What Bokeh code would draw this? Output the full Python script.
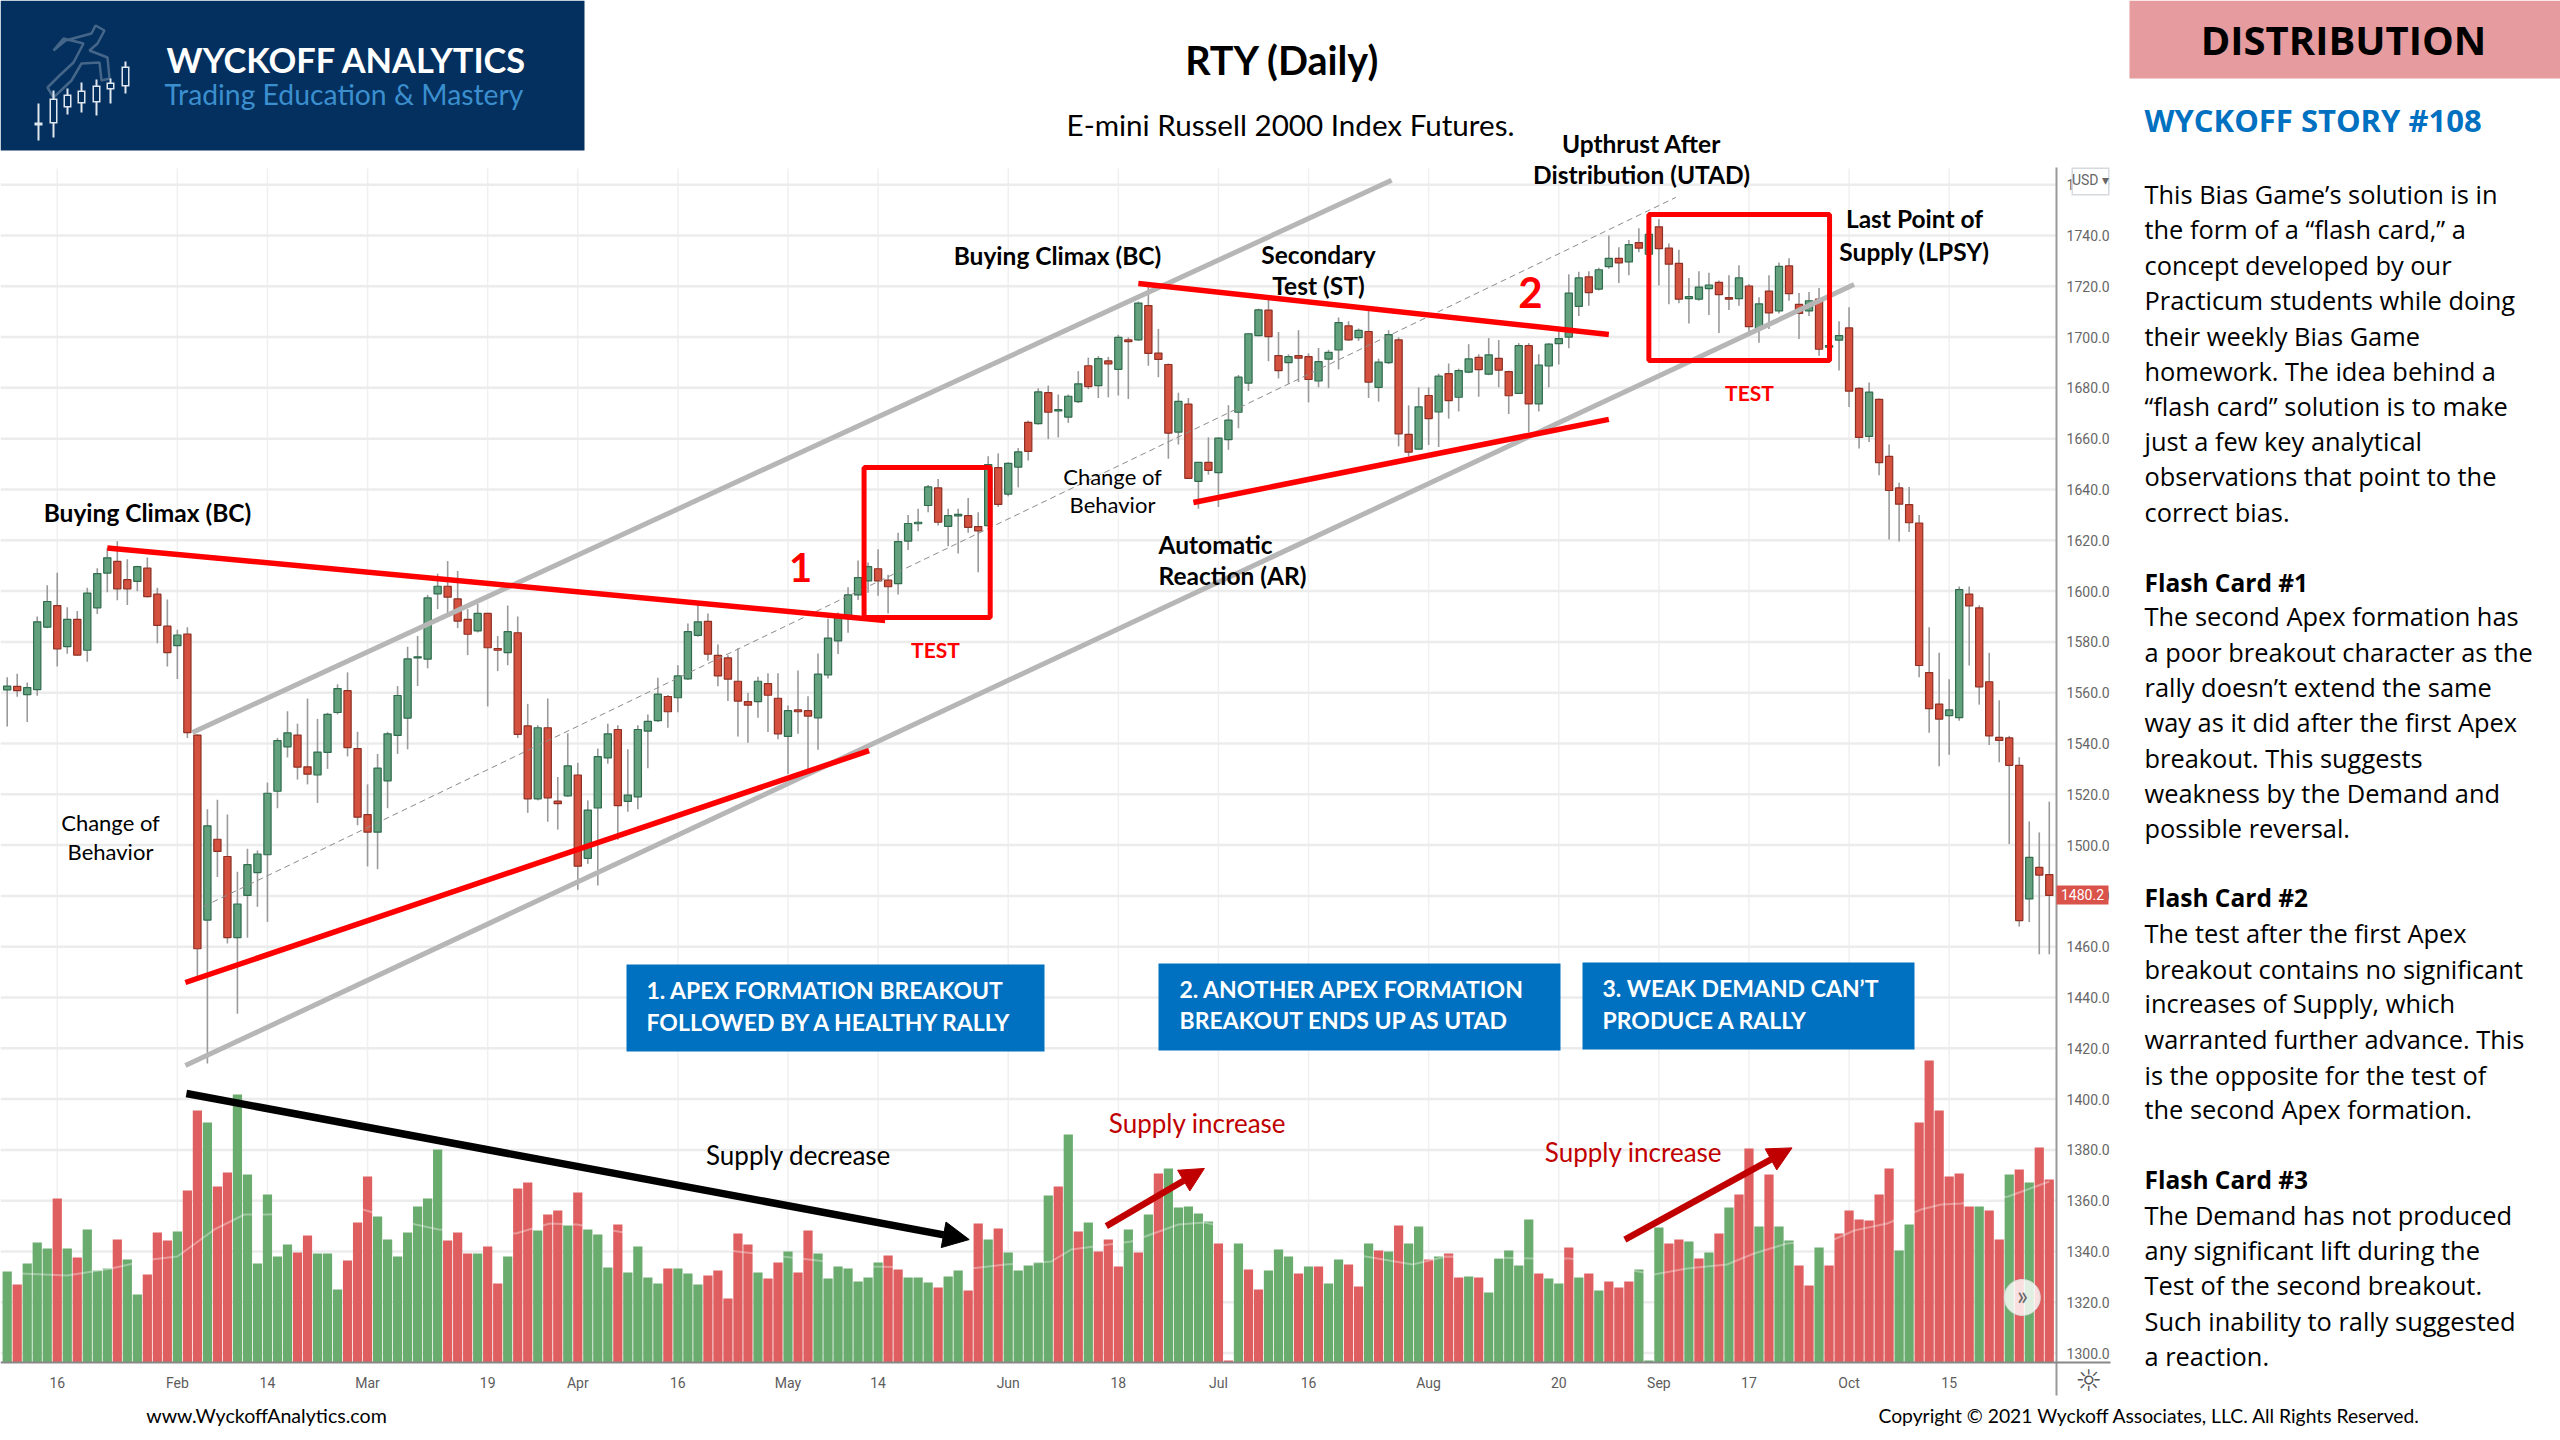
from bokeh.embed import file_html
from bokeh.models import (Arrow, BoxAnnotation, ColumnDataSource, FixedTicker, Label,
                          NormalHead, NumeralTickFormatter, PolyAnnotation, Range1d)
from bokeh.plotting import figure
from bokeh.resources import INLINE

# daily candles
opens = [1561.1,1562.5,1559.2,1561.2,1585.8,1594.3,1578.1,1588.9,1576.7,1593.4,
         1607.1,1611.7,1604.5,1603.8,1609,1598.8,1586.2,1578.5,1583.1,1543.3,
         1470.5,1502.3,1495.5,1463.6,1480.2,1489.2,1496.2,1521.2,1538.7,1543.3,
         1530.8,1527.6,1536.5,1552.2,1560.8,1538,1512,1505.1,1525.3,1543.2,
         1550,1573.7,1573.2,1598.9,1601.9,1596.9,1588.9,1584.3,1591.2,1577.4,
         1575.8,1583.6,1546.9,1518.2,1546.2,1517.3,1519.4,1527.6,1494.8,1514.6,
         1534.3,1545.5,1517.2,1519,1544.9,1549,1558.5,1558,1565.4,1582.6,
         1588.1,1574.7,1573.7,1564.5,1556.5,1556.5,1563.6,1557.8,1542.8,1553.2,
         1552.9,1550.1,1567,1580.4,1589.1,1598.5,1604,1608.8,1604.3,1602.9,
         1619.7,1626.5,1633.7,1640.6,1625.5,1629.6,1629.7,1625.4,1625.8,1648.6,
         1638.2,1648.8,1666.4,1665.9,1678.1,1670.9,1668.5,1674.6,1688.7,1680.9,
         1690.6,1687.3,1698.9,1698.9,1712.4,1693.7,1689.2,1662.6,1673.6,1643.2,
         1650.7,1646.6,1659.6,1670.4,1681.9,1700.6,1710.6,1692.7,1689.9,1692.7,
         1692.3,1682.7,1691.3,1694.9,1704.4,1699.8,1702.2,1680.2,1689.9,1698.9,
         1661.7,1655.9,1677,1670.5,1685.6,1676.3,1686.2,1692,1685.4,1691.6,
         1686.4,1677.8,1696.6,1673.7,1688.6,1697.4,1700,1712.1,1723.7,1718.9,
         1727.7,1731,1729.6,1737.2,1732.6,1743.4,1735,1729,1715.1,1714.9,
         1719.1,1721.5,1715.5,1715.1,1720.1,1703.2,1718.1,1710.3,1728,1712.9,
         1710.3,1714.9,1696,1698.8,1703.6,1679.8,1660.9,1675.5,1653,1640.6,
         1634,1626.8,1567.9,1555.5,1551,1550.2,1598.8,1593.4,1564.3,1542.4,
         1542.2,1531.4,1478.8,1491.2,1488.4]
highs = [1566.1,1567.5,1564,1590,1602.3,1607.2,1593.6,1592.2,1601.3,1609,
         1617,1619.6,1612.5,1610,1613.2,1601.3,1596.7,1584.8,1585.8,1543.6,
         1514.1,1517.9,1512,1489.5,1498.6,1497.9,1524.6,1542.2,1552.7,1547.8,
         1557.7,1549.7,1552.1,1563.3,1568,1544.6,1523.9,1535.9,1544.6,1562.6,
         1578.1,1582.3,1598.5,1606.9,1611.8,1607.9,1592.9,1595,1591.4,1582.3,
         1594.3,1590,1555.6,1547.2,1557.7,1526.8,1544,1532.4,1517.6,1538,
         1547.8,1547.2,1537.7,1547.2,1551.4,1565.9,1559.1,1570.8,1587.2,1594.5,
         1591.2,1579,1574.7,1577.5,1560,1566.3,1567.7,1567.7,1555,1568.7,
         1558.6,1575.4,1589.2,1591.6,1601.5,1612,1611.3,1616.5,1606.4,1623,
         1630,1632.4,1641.8,1644.1,1632.4,1632.4,1636.6,1631,1653.1,1654.2,
         1650.7,1656.3,1667.1,1679.8,1680.9,1677.4,1677.4,1686.6,1691.9,1692.5,
         1692.2,1700.9,1699.9,1714,1719.9,1703.2,1689.6,1678.1,1676,1650.7,
         1660.5,1660.5,1673.2,1685.1,1701.6,1711.2,1714.7,1702,1693.2,1702.7,
         1693.6,1695.7,1695,1707.7,1706.2,1703.4,1710.8,1691.5,1702.7,1699.9,
         1673.1,1680.2,1680.2,1685.6,1689.6,1687.6,1697.2,1693.2,1699.6,1698.8,
         1686.8,1697.6,1697.6,1693.2,1697.6,1702.2,1724.7,1725.7,1725.9,1727.3,
         1740,1735.4,1738.2,1742.8,1748.4,1746.4,1736.8,1734.4,1723.3,1725.9,
         1725.3,1722.3,1724.3,1728.3,1720.9,1715.7,1724.3,1729.4,1731,1717.3,
         1717.7,1719.3,1702.8,1706.2,1711.7,1680.2,1682.1,1675.8,1657.7,1642.6,
         1641,1630,1585.8,1575.7,1565.3,1601.8,1601.8,1594.4,1575.7,1557,
         1543,1534.6,1509.3,1505,1517.1]
lows = [1546.7,1558.4,1548.5,1558.8,1585.4,1570.3,1575.3,1574.6,1572.2,1591,
        1599.5,1596.4,1594.5,1599.9,1597.5,1579.5,1570.3,1565.4,1542.2,1448,
        1414,1487.4,1461.3,1433.6,1463.5,1475.7,1469.8,1514.5,1534.5,1525.8,
        1523.9,1516.6,1530,1551.4,1534.9,1507.8,1491.6,1490.5,1514.5,1535.9,
        1537.7,1562.6,1569.6,1592.9,1590.5,1585.4,1574.8,1583.7,1554.6,1568.5,
        1570.8,1542.2,1512.7,1517.6,1509.2,1506.1,1519,1482.4,1492.6,1484.1,
        1532,1502.1,1513.1,1514.1,1530.3,1548.5,1546.2,1552.3,1565,1582,
        1572.6,1562.5,1556.7,1542.8,1540.3,1550.1,1544.5,1541.7,1528,1543.8,
        1529,1537.5,1565.6,1575.2,1583.6,1596.5,1599.3,1598.2,1591.2,1598.7,
        1616.2,1623.6,1631,1625.8,1617.6,1614.8,1623,1607.4,1625.4,1633.1,
        1637.3,1640.8,1651.4,1665.5,1659.8,1660.5,1666.2,1674,1679.5,1676,
        1676.3,1677,1675.6,1698.5,1688.7,1684.2,1652.1,1657.7,1644.1,1632.4,
        1645.8,1633.1,1655.6,1664.1,1678.8,1700.3,1690.5,1683.7,1681.6,1682.3,
        1674.3,1680.2,1679.9,1687.3,1698.5,1698.5,1676,1674.6,1689.4,1657,
        1653,1655.7,1657.5,1656.7,1667.9,1670.7,1685.8,1676.5,1685,1680.2,
        1669.7,1677.6,1662.5,1670.7,1680.2,1689.2,1695.6,1708.3,1712.3,1718.3,
        1726.9,1721.3,1724.3,1733.4,1728.3,1720.3,1712.9,1713.3,1705.3,1714.3,
        1708.7,1701.6,1710.7,1712.3,1701.2,1697.8,1703.2,1709.3,1714.3,1699.2,
        1708.3,1692.6,1695.5,1686.8,1672.5,1656.1,1658.7,1645.6,1620.3,1619.5,
        1623.3,1566.1,1544.2,1531,1535.6,1549,1570.7,1555.3,1539.4,1532.6,
        1500.4,1467.9,1469.7,1457,1457]
closes = [1562.6,1560.8,1562,1587.9,1595.9,1577.2,1588.9,1574.8,1599.2,1606.9,
          1613.1,1600.9,1600.9,1609.6,1597.8,1586.5,1575.8,1582.7,1544.3,1459.2,
          1507.6,1497.5,1463.6,1476.8,1492.3,1496.5,1520.4,1541.1,1544.2,1530.7,
          1527.9,1536.6,1551.5,1561.6,1538.4,1511,1505.1,1530.3,1543.8,1558.9,
          1573.3,1574.1,1597.3,1601.9,1597.6,1588.2,1583,1591.2,1577.7,1576.7,
          1584,1543.6,1518.2,1546.2,1518.6,1516.3,1531.2,1491.7,1513.8,1534.8,
          1543.8,1515.5,1519.7,1545.5,1548.7,1559.4,1552.5,1566.6,1584,1587.9,
          1575.2,1566.6,1565.3,1556.7,1555.1,1564.5,1559,1543.8,1552.9,1552.5,
          1550.8,1567.3,1581.5,1589.5,1598.5,1605.3,1609.6,1604,1601.7,1619.5,
          1626.6,1627.1,1641,1627.1,1629.7,1630.2,1625.1,1623.7,1649.8,1634.1,
          1650.3,1654.8,1655,1678.4,1670.4,1671.4,1676.7,1681.6,1680.5,1691.5,
          1689.4,1699.9,1698.2,1713.4,1693.6,1691.2,1662.2,1674.7,1644.4,1650.7,
          1647.5,1660.2,1667.3,1684.2,1701.3,1710.7,1700.2,1686.8,1692.3,1691.7,
          1683.3,1690.3,1694,1705.7,1698.9,1702.6,1682.3,1690.1,1701,1661.9,
          1654.7,1672.5,1667.9,1684.6,1675,1686.8,1691.4,1687.2,1693,1687,
          1676.9,1696.6,1673.7,1689,1697.2,1699.4,1717.3,1723.3,1717.5,1726.5,
          1731,1729.2,1736.4,1735,1740.4,1734.8,1728.7,1714.9,1715.9,1719.7,
          1720.5,1716.7,1714.9,1723.3,1704.1,1713.1,1709.5,1727.8,1717.1,1709.3,
          1714.3,1695.2,1696.6,1700.6,1678.7,1660.5,1678.3,1650.6,1639.6,1634.2,
          1626.9,1570.7,1553.7,1549.6,1553.2,1600.6,1594.2,1562.3,1543,1541.2,
          1531.4,1470.3,1495.2,1488.2,1480.2]

# volume pane, no scale shown in the picture so the unit is arbitrary
volumes = [91,78,99,120,114,164,114,105,133,92,
           94,123,103,68,88,130,122,131,172,252,
           240,176,190,268,188,99,168,106,118,110,
           127,109,109,73,102,140,186,146,123,106,
           130,156,164,213,122,130,109,109,116,79,
           106,174,180,132,148,152,137,170,133,128,
           95,138,90,116,85,79,94,94,89,78,
           87,92,64,129,118,90,84,100,111,90,
           132,109,84,96,94,81,85,100,107,93,
           85,85,80,75,86,92,72,139,123,134,
           110,92,97,100,167,176,228,131,140,111,
           123,96,133,110,148,189,194,155,156,149,
           141,119,2,119,93,73,92,113,106,89,
           96,96,79,103,98,76,119,112,111,137,
           119,136,103,106,109,85,86,85,70,104,
           112,97,143,89,84,79,115,85,89,72,
           81,75,81,93,2,135,119,123,121,104,
           110,129,155,168,214,136,188,136,122,97,
           77,115,97,129,152,143,142,168,194,112,
           138,240,302,252,186,189,156,156,152,123,
           188,193,180,215,183]
volume_sides = list(
    "grgggrgrgg" "grggrrrgrr" "grrggggggr" "rgggrrrggg"
    "ggggrrrgrr" "grrgrrgrgg" "grggggrggg" "rrrrrgrrgr"
    "rgggggggrr" "gggrggrrgr" "gggggrgrgr" "rrgrgrgggg"
    "grrgrrgggr" "grggrrgrgr" "ggrgrrgrgg" "gggrggrgrg"
    "rrrgggrrgr" "grgrrgrggr" "rgrrrrrrrg" "grrrrrrgrr"
    "grgrr")

# moving average drawn over the volume bars
vol_ma_bars = [1.3,6,10.4,14.4,17,20.7,23.7,26,35.5,40.8,43.1,50.8,54.2,56.9,72.9,86.3,96.3,99.7,104.3,
               106.3,112.3,117,119.6,135.7,140.4,143.7,152.4,156.1,164.5,167.8,171.8,174.5,177.8,
               182.5,184.5,187.8,191.2,193.2,195.2,199.9,204]
vol_ma_values = [89,87,94,103,106,133,148,148,153,138,133,129,139,138,111,96,94,98,101,
                 113,121,138,140,106,98,106,104,104,88,94,98,109,119,
                 123,132,139,153,158,159,166,181]

date_ticks = [5,17,26,36,48,57,67,78,87,100,111,121,130,142,155,165,174,184,194]
date_labels = ["16","Feb","14","Mar","19","Apr","16","May","14","Jun","18","Jul","16","Aug","20","Sep","17","Oct","15"]
price_ticks = list(range(1300, 1780, 20))

# hand drawn lines on the chart, (bar, price)
channel_upper = ([18.5, 138.3], [1544.3, 1761.7])
channel_lower = ([17.8, 184.5], [1413.2, 1720.7])
channel_mid = ([19.6, 166.7], [1475.8, 1755.0])
apex1_top = ([10.0, 87.7], [1617.0, 1588.4])
apex1_bottom = ([17.8, 86.1], [1445.9, 1537.2])
apex2_top = ([113.0, 160.0], [1721.1, 1701.0])
apex2_bottom = ([118.5, 160.0], [1634.9, 1667.6])
test_boxes_left = [85.6, 164.0]
test_boxes_right = [98.2, 182.05]
test_boxes_top = [1648.7, 1748.3]
test_boxes_bottom = [1589.6, 1690.8]

story_lines = [
    ("This Bias Game’s solution is in", 195), ("the form of a “flash card,” a", 230),
    ("concept developed by our", 266), ("Practicum students while doing", 301),
    ("their weekly Bias Game", 337), ("homework. The idea behind a", 372),
    ("“flash card” solution is to make", 407), ("just a few key analytical", 442),
    ("observations that point to the", 477), ("correct bias.", 513),
    ("The second Apex formation has", 617), ("a poor breakout character as the", 653),
    ("rally doesn’t extend the same", 688), ("way as it did after the first Apex", 723),
    ("breakout. This suggests", 759), ("weakness by the Demand and", 794),
    ("possible reversal.", 829),
    ("The test after the first Apex", 934), ("breakout contains no significant", 970),
    ("increases of Supply, which", 1004), ("warranted further advance. This", 1040),
    ("is the opposite for the test of", 1076), ("the second Apex formation.", 1110),
    ("The Demand has not produced", 1216), ("any significant lift during the", 1251),
    ("Test of the second breakout.", 1286), ("Such inability to rally suggested", 1322),
    ("a reaction.", 1357),
]

bars = list(range(len(closes)))
up = [c >= o for o, c in zip(opens, closes)]
candle_src = ColumnDataSource(dict(
    bar=bars, open=opens, high=highs, low=lows, close=closes,
    top=[max(o, c) for o, c in zip(opens, closes)],
    bottom=[min(o, c) for o, c in zip(opens, closes)],
    fill=["#63a07e" if u else "#d4513f" for u in up],
    edge=["#2f6b4c" if u else "#8e3023" for u in up],
))
volume_src = ColumnDataSource(dict(
    bar=bars, volume=volumes,
    color=["#6aab6e" if s == "g" else "#df5f60" for s in volume_sides],
))

WIDTH, HEIGHT = 2560, 1440
LAST_BAR_EDGE = 204.73   # where the price scale sits
BASE_PRICE = 1296.3      # where the time scale sits
TOP_PRICE = 1766.4

# the frame fills the page, axes are pinned inside it so text can go anywhere
p = figure(width=WIDTH, height=HEIGHT, output_backend="svg", toolbar_location=None,
           x_range=Range1d(-0.669, 255.07), y_range=Range1d(1265.6, 1832.5),
           y_axis_location="right", min_border=0, outline_line_color=None)
p.extra_y_ranges = {"volume": Range1d(-78, 1362)}
p.xgrid.visible = False
p.ygrid.visible = False

p.xaxis.fixed_location = BASE_PRICE
p.xaxis.ticker = FixedTicker(ticks=date_ticks)
p.xaxis.major_label_overrides = dict(zip(date_ticks, date_labels))
p.xaxis.axis_line_color = None
p.xaxis.major_tick_line_color = None
p.xaxis.minor_tick_line_color = None
p.xaxis.major_tick_out = 0
p.xaxis.major_label_standoff = 12
p.xaxis.major_label_text_font = "Roboto"
p.xaxis.major_label_text_font_size = "14px"
p.xaxis.major_label_text_color = "#5c5c5c"

p.yaxis.fixed_location = LAST_BAR_EDGE
p.yaxis.ticker = FixedTicker(ticks=price_ticks)
p.yaxis.formatter = NumeralTickFormatter(format="0.0")
p.yaxis.axis_line_color = None
p.yaxis.major_tick_line_color = None
p.yaxis.minor_tick_line_color = None
p.yaxis.major_tick_out = 0
p.yaxis.major_label_standoff = 10
p.yaxis.major_label_text_font = "Roboto"
p.yaxis.major_label_text_font_size = "14px"
p.yaxis.major_label_text_color = "#666666"

# grid only over the chart area
p.segment(x0=date_ticks, x1=date_ticks, y0=BASE_PRICE, y1=TOP_PRICE, line_color="#f0f0f0", line_width=1.5)
p.segment(x0=-0.669, x1=LAST_BAR_EDGE, y0=price_ticks, y1=price_ticks, line_color="#ececec", line_width=2.5)

# volume first, candles on top
p.vbar(x="bar", top="volume", bottom=0, width=0.92, color="color", source=volume_src,
       y_range_name="volume", line_color=None)
p.line(vol_ma_bars, vol_ma_values, y_range_name="volume", line_color="white", line_alpha=0.35, line_width=2)
p.segment(x0="bar", x1="bar", y0="low", y1="high", color="#9a9a9a", line_width=1.6, source=candle_src)
p.vbar(x="bar", top="top", bottom="bottom", width=0.72, fill_color="fill", line_color="edge",
       line_width=1.2, source=candle_src)

for xs, ys in (channel_upper, channel_lower):
    p.line(xs, ys, line_color="#b6b6b6", line_width=5)
p.line(*channel_mid, line_color="#8c8c8c", line_width=1, line_dash=[6, 4])
for xs, ys in (apex1_top, apex1_bottom, apex2_top, apex2_bottom):
    p.line(xs, ys, line_color="#ff0000", line_width=5.5)
p.quad(left=test_boxes_left, right=test_boxes_right, top=test_boxes_top, bottom=test_boxes_bottom,
       fill_color=None, line_color="#ff0000", line_width=5)

p.add_layout(Arrow(end=NormalHead(size=26, fill_color="black", line_color="black"), line_color="black",
                   line_width=7.5, x_start=17.9, y_start=1402.2, x_end=96.1, y_end=1344.7))
for x0, y0, x1, y1 in ((109.8, 1350.0, 119.6, 1372.7), (161.6, 1344.7, 178.3, 1380.8)):
    p.add_layout(Arrow(end=NormalHead(size=24, fill_color="#c00000", line_color="#c00000"), line_color="#c00000",
                       line_width=6.5, x_start=x0, y_start=y0, x_end=x1, y_end=y1))

p.scatter([201.3], [1321.9], size=36, fill_color="white", fill_alpha=0.8, line_color="#dddddd")


def box(left, top, right, bottom, color):
    p.add_layout(BoxAnnotation(left=left, right=right, top=HEIGHT - top, bottom=HEIGHT - bottom,
                               left_units="screen", right_units="screen", top_units="screen", bottom_units="screen",
                               fill_color=color, fill_alpha=1, line_color=None))


def put(px, py, text, size, color="black", style="normal", font="Lato", align="left"):
    p.add_layout(Label(x=px, y=HEIGHT - py + 1.5, x_units="screen", y_units="screen", text=text,
                       text_font=font, text_font_size=f"{size}px", text_color=color, text_font_style=style,
                       text_align=align, text_baseline="middle"))


# price and time scale lines
box(2055, 167, 2057, 1395, "#999999")
box(0, 1361, 2110, 1363, "#888888")

# logo
box(0, 0, 584, 150, "#03305e")
logo_candles = [(38, 122, 125, 103, 140), (53, 98, 123, 90, 137), (67, 94, 107, 88, 114), (81, 90, 103, 82, 112),
                (96, 85, 102, 79, 115), (110, 82, 89, 78, 103), (125, 66, 86, 61, 93)]
for cx, body_top, body_bot, wick_top, wick_bot in logo_candles:
    box(cx - 1, wick_top, cx + 1, wick_bot, "#dfe6ee")
    box(cx - 4, body_top, cx + 4, body_bot, "#dfe6ee")
    box(cx - 2.5, body_top + 1.5, cx + 2.5, max(body_bot - 1.5, body_top + 1.5), "#03305e")
runner_x = [47, 59, 73, 83, 63, 53, 65, 91, 95, 104, 97, 89, 107, 109, 101, 99, 81, 71, 53]
runner_y = [87, 75, 62, 43, 38, 50, 40, 33, 25, 30, 43, 50, 57, 78, 80, 62, 63, 80, 97]
p.add_layout(PolyAnnotation(xs=runner_x, ys=[HEIGHT - y for y in runner_y],
                            xs_units="screen", ys_units="screen", fill_alpha=0, line_color="#dfe6ee", line_width=2.5))
put(166, 60, "WYCKOFF ANALYTICS", 34.4, "white", "bold")
put(164, 95, "Trading Education & Mastery", 28.3, "#3b8fcf")

# title
put(1282, 60, "RTY (Daily)", 39.5, "black", "bold", align="center")
put(1290, 125, "E-mini Russell 2000 Index Futures.", 29.6, align="center")

# right panel
box(2129, 0, 2560, 78, "#e69c9f")
put(2343, 40, "DISTRIBUTION", 40, "black", "bold", font="Open Sans", align="center")
put(2144, 121, "WYCKOFF STORY #108", 31, "#0070c0", "bold", font="Open Sans")
for text, py in story_lines:
    put(2144, py, text, 25.4, font="Open Sans")
for text, py in (("Flash Card #1", 583), ("Flash Card #2", 898), ("Flash Card #3", 1180)):
    put(2144, py, text, 24.5, "black", "bold", font="Open Sans")

# chart annotations
for text, cx, py in (("Buying Climax (BC)", 147, 513), ("Buying Climax (BC)", 1057, 256),
                     ("Secondary", 1318, 255), ("Test (ST)", 1318, 286),
                     ("Upthrust After", 1641, 144), ("Distribution (UTAD)", 1641, 175),
                     ("Last Point of", 1914, 219), ("Supply (LPSY)", 1914, 252)):
    put(cx, py, text, 24.5, "black", "bold", align="center")
for text, py in (("Automatic", 545), ("Reaction (AR)", 576)):
    put(1158, py, text, 24.5, "black", "bold")
for text, cx, py in (("Change of", 110, 823), ("Behavior", 110, 852), ("Change of", 1112, 477), ("Behavior", 1112, 505)):
    put(cx, py, text, 22, align="center")
put(798, 1156, "Supply decrease", 26, align="center")
put(1197, 1124, "Supply increase", 26, "#c00000", align="center")
put(1633, 1153, "Supply increase", 26, "#c00000", align="center")
put(800, 568, "1", 40, "#ff0000", "bold", align="center")
put(1530, 293, "2", 42, "#ff0000", "bold", align="center")
put(935, 650, "TEST", 21, "#ff0000", "bold", align="center")
put(1749, 393, "TEST", 21, "#ff0000", "bold", align="center")

# blue call-outs
box(626, 964, 1044, 1051, "#0070c0")
box(1158, 963, 1560, 1050, "#0070c0")
box(1582, 962, 1914, 1049, "#0070c0")
put(646, 991, "1. APEX FORMATION BREAKOUT", 23, "white", "bold")
put(646, 1023, "FOLLOWED BY A HEALTHY RALLY", 23, "white", "bold")
put(1179, 990, "2. ANOTHER APEX FORMATION", 23, "white", "bold")
put(1179, 1021, "BREAKOUT ENDS UP AS UTAD", 23, "white", "bold")
put(1602, 989, "3. WEAK DEMAND CAN’T", 23, "white", "bold")
put(1602, 1021, "PRODUCE A RALLY", 23, "white", "bold")

# footer
put(266, 1416, "www.WyckoffAnalytics.com", 19.6, align="center")
put(1878, 1416, "Copyright © 2021 Wyckoff Associates, LLC. All Rights Reserved.", 19.3)

# tradingview bits
box(2056, 885, 2108, 904, "#d9534a")
put(2082, 895, "1480.2", 14, "white", font="Roboto", align="center")
box(2071, 167, 2109, 195, "#d6dade")
box(2072.5, 168.5, 2107.5, 193.5, "white")
put(2090, 181, "USD ▾", 14, "#666666", font="Roboto", align="center")
put(2088, 1381, "☼", 30, "#555555", font="DejaVu Sans", align="center")
put(2022, 1296, "»", 26, "#666666", align="center")

open("out.html", "w").write(file_html(p, INLINE))
